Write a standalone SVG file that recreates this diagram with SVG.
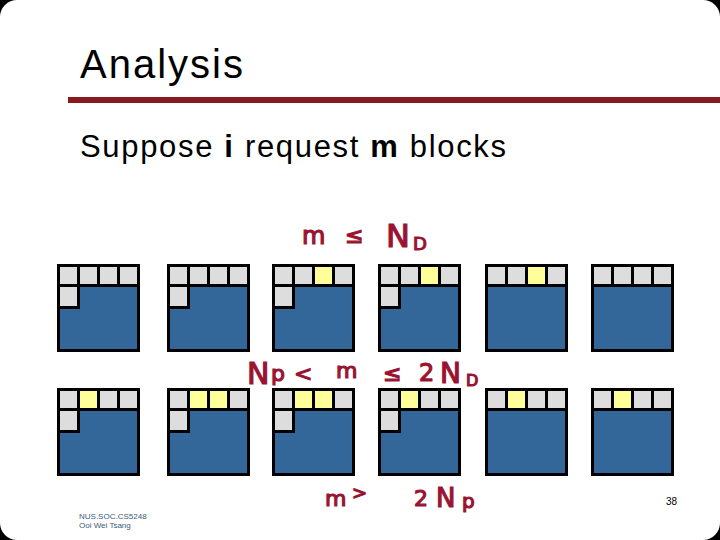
<svg xmlns="http://www.w3.org/2000/svg" width="720" height="540" viewBox="0 0 720 540">
<style>
.frame{fill:#000}
.cell{fill:#dddddd}
.hot{fill:#ffff99}
.blue{fill:#336699}
.title{font-family:"Liberation Sans",Arial,sans-serif;font-size:40px;fill:#000}
.body{font-family:"Liberation Sans",Arial,sans-serif;font-size:31px;fill:#000}
.b{font-weight:bold}
.hw{font-family:"DejaVu Sans","Liberation Sans",sans-serif;fill:#9a1432;stroke:#9a1432;stroke-width:1.2px}
.foot{font-family:"Liberation Sans",Arial,sans-serif;font-size:8px;fill:#3b5a78}
.pg{font-family:"Liberation Sans",Arial,sans-serif;font-size:10px;fill:#000}
</style>
<rect x="0" y="0" width="720" height="540" fill="#000"/>
<rect x="0" y="0" width="720" height="540" rx="17" ry="17" fill="#fff"/>
<g id="title">
<text class="title" x="80" y="78" textLength="163" lengthAdjust="spacing">Analysis</text>
<rect x="68" y="97" width="652" height="6" fill="#861a1c"/>
</g>
<g id="subtitle">
<text class="body" x="80" y="157" textLength="426" lengthAdjust="spacing">Suppose <tspan class="b">i</tspan> request <tspan class="b">m</tspan> blocks</text>
</g>
<g id="row1">
<g id="r1b1">
<rect class="frame" x="57" y="264" width="83" height="88"/>
<rect class="cell" x="60" y="267" width="17" height="17"/><rect class="cell" x="80" y="267" width="17" height="17"/><rect class="cell" x="100" y="267" width="17" height="17"/><rect class="cell" x="120" y="267" width="17" height="17"/>
<rect class="cell" x="60" y="287" width="17" height="19"/>
<path class="blue" d="M80,287H137V349H60V309H80Z"/>
</g>
<g id="r1b2">
<rect class="frame" x="167" y="264" width="83" height="88"/>
<rect class="cell" x="170" y="267" width="17" height="17"/><rect class="cell" x="190" y="267" width="17" height="17"/><rect class="cell" x="210" y="267" width="17" height="17"/><rect class="cell" x="230" y="267" width="17" height="17"/>
<rect class="cell" x="170" y="287" width="17" height="19"/>
<path class="blue" d="M190,287H247V349H170V309H190Z"/>
</g>
<g id="r1b3">
<rect class="frame" x="272" y="264" width="83" height="88"/>
<rect class="cell" x="275" y="267" width="17" height="17"/><rect class="cell" x="295" y="267" width="17" height="17"/><rect class="hot" x="315" y="267" width="17" height="17"/><rect class="cell" x="335" y="267" width="17" height="17"/>
<rect class="cell" x="275" y="287" width="17" height="19"/>
<path class="blue" d="M295,287H352V349H275V309H295Z"/>
</g>
<g id="r1b4">
<rect class="frame" x="378" y="264" width="83" height="88"/>
<rect class="cell" x="381" y="267" width="17" height="17"/><rect class="cell" x="401" y="267" width="17" height="17"/><rect class="hot" x="421" y="267" width="17" height="17"/><rect class="cell" x="441" y="267" width="17" height="17"/>
<rect class="cell" x="381" y="287" width="17" height="19"/>
<path class="blue" d="M401,287H458V349H381V309H401Z"/>
</g>
<g id="r1b5">
<rect class="frame" x="485" y="264" width="83" height="88"/>
<rect class="cell" x="488" y="267" width="17" height="17"/><rect class="cell" x="508" y="267" width="17" height="17"/><rect class="hot" x="528" y="267" width="17" height="17"/><rect class="cell" x="548" y="267" width="17" height="17"/>
<rect class="blue" x="488" y="287" width="77" height="62"/>
</g>
<g id="r1b6">
<rect class="frame" x="591" y="264" width="83" height="88"/>
<rect class="cell" x="594" y="267" width="17" height="17"/><rect class="cell" x="614" y="267" width="17" height="17"/><rect class="cell" x="634" y="267" width="17" height="17"/><rect class="cell" x="654" y="267" width="17" height="17"/>
<rect class="blue" x="594" y="287" width="77" height="62"/>
</g>
</g>
<g id="row2">
<g id="r2b1">
<rect class="frame" x="57" y="388" width="83" height="88"/>
<rect class="cell" x="60" y="391" width="17" height="17"/><rect class="hot" x="80" y="391" width="17" height="17"/><rect class="cell" x="100" y="391" width="17" height="17"/><rect class="cell" x="120" y="391" width="17" height="17"/>
<rect class="cell" x="60" y="411" width="17" height="19"/>
<path class="blue" d="M80,411H137V473H60V433H80Z"/>
</g>
<g id="r2b2">
<rect class="frame" x="167" y="388" width="83" height="88"/>
<rect class="cell" x="170" y="391" width="17" height="17"/><rect class="hot" x="190" y="391" width="17" height="17"/><rect class="hot" x="210" y="391" width="17" height="17"/><rect class="cell" x="230" y="391" width="17" height="17"/>
<rect class="cell" x="170" y="411" width="17" height="19"/>
<path class="blue" d="M190,411H247V473H170V433H190Z"/>
</g>
<g id="r2b3">
<rect class="frame" x="272" y="388" width="83" height="88"/>
<rect class="cell" x="275" y="391" width="17" height="17"/><rect class="hot" x="295" y="391" width="17" height="17"/><rect class="hot" x="315" y="391" width="17" height="17"/><rect class="cell" x="335" y="391" width="17" height="17"/>
<rect class="cell" x="275" y="411" width="17" height="19"/>
<path class="blue" d="M295,411H352V473H275V433H295Z"/>
</g>
<g id="r2b4">
<rect class="frame" x="378" y="388" width="83" height="88"/>
<rect class="cell" x="381" y="391" width="17" height="17"/><rect class="hot" x="401" y="391" width="17" height="17"/><rect class="cell" x="421" y="391" width="17" height="17"/><rect class="cell" x="441" y="391" width="17" height="17"/>
<rect class="cell" x="381" y="411" width="17" height="19"/>
<path class="blue" d="M401,411H458V473H381V433H401Z"/>
</g>
<g id="r2b5">
<rect class="frame" x="485" y="388" width="83" height="88"/>
<rect class="cell" x="488" y="391" width="17" height="17"/><rect class="hot" x="508" y="391" width="17" height="17"/><rect class="cell" x="528" y="391" width="17" height="17"/><rect class="cell" x="548" y="391" width="17" height="17"/>
<rect class="blue" x="488" y="411" width="77" height="62"/>
</g>
<g id="r2b6">
<rect class="frame" x="591" y="388" width="83" height="88"/>
<rect class="cell" x="594" y="391" width="17" height="17"/><rect class="hot" x="614" y="391" width="17" height="17"/><rect class="cell" x="634" y="391" width="17" height="17"/><rect class="cell" x="654" y="391" width="17" height="17"/>
<rect class="blue" x="594" y="411" width="77" height="62"/>
</g>
</g>
<g id="connectors"></g>
<g id="notes">
<text class="hw"><tspan x="302" y="244" font-size="24">m</tspan><tspan x="345" y="243" font-size="22">≤</tspan><tspan x="386" y="247" font-size="32">N</tspan><tspan x="413" y="250" font-size="18">D</tspan></text>
<text class="hw"><tspan x="247" y="384" font-size="30">N</tspan><tspan x="271" y="381" font-size="22">p</tspan><tspan x="294" y="381" font-size="22">&lt;</tspan><tspan x="336" y="378" font-size="22">m</tspan><tspan x="383" y="381" font-size="22">≤</tspan><tspan x="419" y="381" font-size="24">2</tspan><tspan x="440" y="383" font-size="28">N</tspan><tspan x="466" y="386" font-size="16">D</tspan></text>
<text class="hw"><tspan x="325" y="506" font-size="22">m</tspan><tspan x="352" y="499" font-size="18">&gt;</tspan><tspan x="414" y="506" font-size="22">2</tspan><tspan x="436" y="507" font-size="26">N</tspan><tspan x="462" y="508" font-size="20">p</tspan></text>
</g>
<g id="footer">
<text class="foot" x="79" y="519">NUS.SOC.CS5248</text>
<text class="foot" x="79" y="528">Ooi Wei Tsang</text>
<text class="pg" x="666" y="505">38</text>
</g>
</svg>
